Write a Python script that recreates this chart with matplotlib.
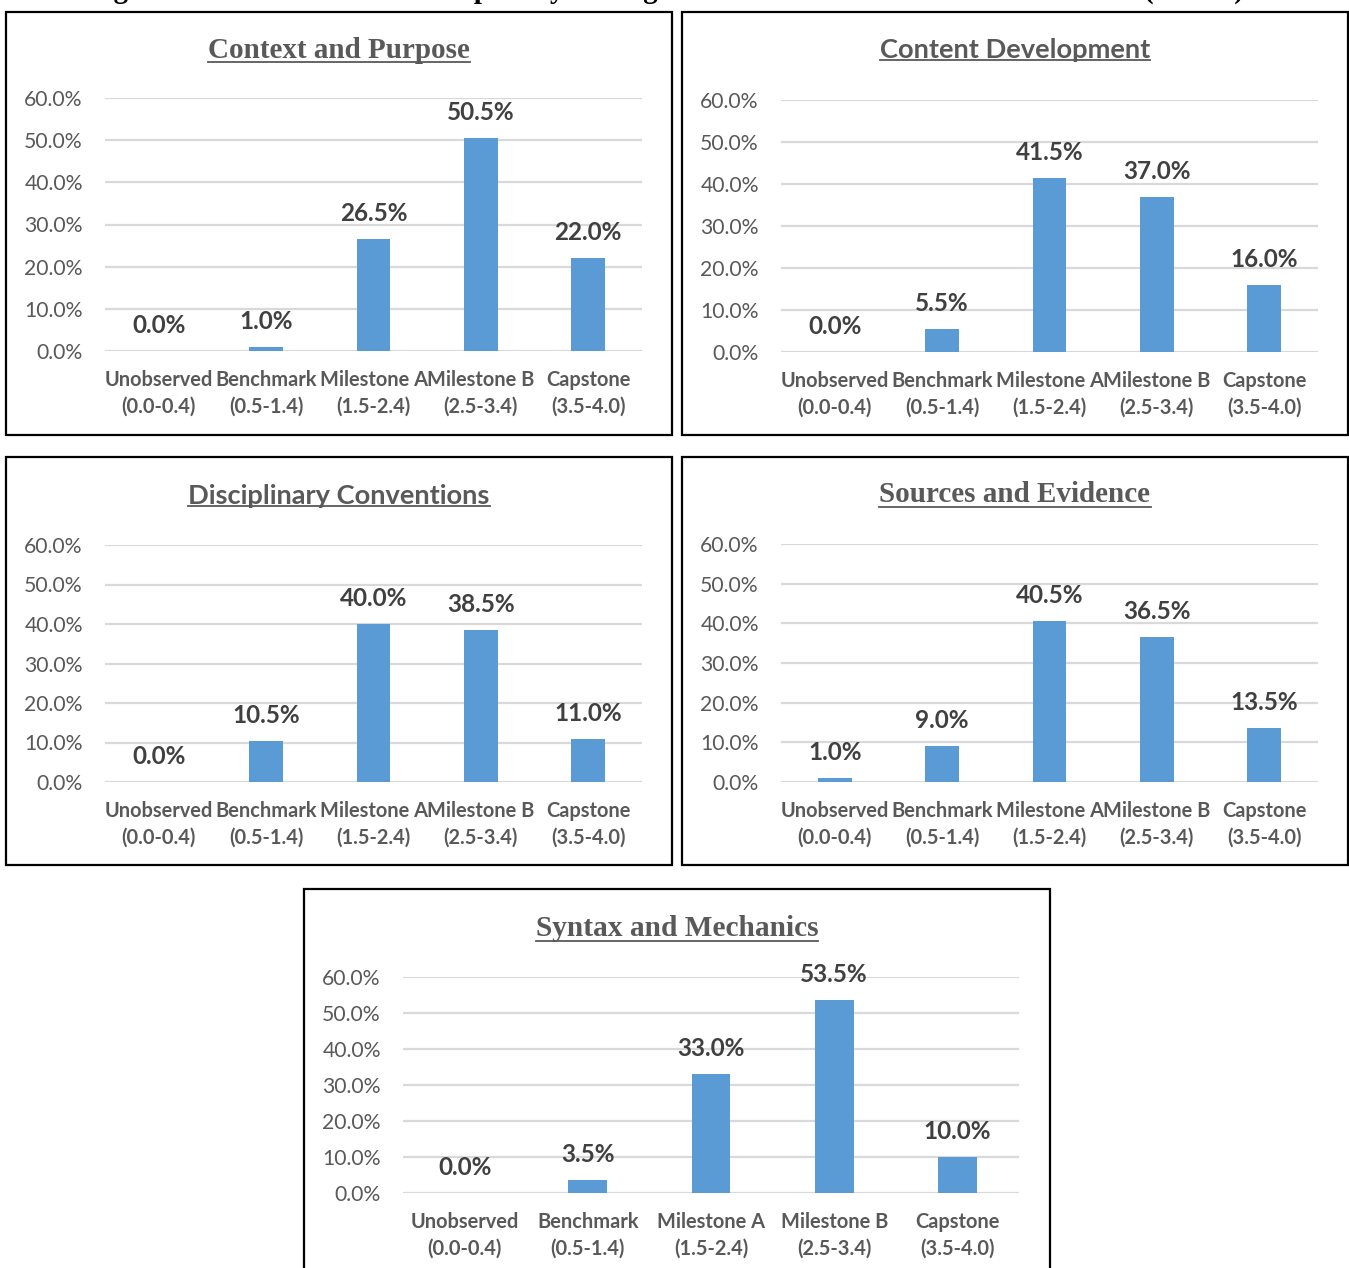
import matplotlib
matplotlib.use("Agg")
import matplotlib.pyplot as plt
from matplotlib.patches import Rectangle
from matplotlib.lines import Line2D

W, H = 1349, 1268
DPI = 100

categories = ["Unobserved\n(0.0-0.4)", "Benchmark\n(0.5-1.4)", "Milestone A\n(1.5-2.4)",
              "Milestone B\n(2.5-3.4)", "Capstone\n(3.5-4.0)"]
context_purpose = [0.0, 1.0, 26.5, 50.5, 22.0]
content_development = [0.0, 5.5, 41.5, 37.0, 16.0]
disciplinary_conventions = [0.0, 10.5, 40.0, 38.5, 11.0]
sources_evidence = [1.0, 9.0, 40.5, 36.5, 13.5]
syntax_mechanics = [0.0, 3.5, 33.0, 53.5, 10.0]
y_ticks = [0, 10, 20, 30, 40, 50, 60]

BAR = "#5B9BD5"
GRID = "#D9D9D9"
TXT = "#595959"
LBL = "#404040"
SANS = ["Lato", "DejaVu Sans"]
SERIF = ["Liberation Serif", "DejaVu Serif"]

fig = plt.figure(figsize=(W / DPI, H / DPI), dpi=DPI)
fig.patch.set_facecolor("white")


def fx(x):
    return x / W


def fy(y):
    return 1 - y / H


def frame(x0, y0, x1, y1):
    fig.patches.append(Rectangle((fx(x0), fy(y1)), fx(x1 - x0), (y1 - y0) / H,
                                 transform=fig.transFigure, fill=False,
                                 edgecolor="black", linewidth=1.6, zorder=0))


titles = []


def panel(values, title, title_font, title_size, title_xy, box, cat_size=14.4):
    x0, ytop, x1, ybot = box
    ax = fig.add_axes([fx(x0), fy(ybot), fx(x1 - x0), (ybot - ytop) / H])
    ax.set_facecolor("none")
    pos = list(range(len(categories)))
    ax.bar(pos, values, width=0.315, color=BAR, zorder=3)
    ax.set_xlim(-0.5, len(categories) - 0.5)
    ax.set_ylim(0, 60)
    ax.set_yticks(y_ticks)
    ax.set_yticklabels([f"{v:.1f}%" for v in y_ticks], family=SANS, fontsize=15.2, color=TXT)
    ax.set_xticks(pos)
    ax.set_xticklabels(categories, family=SANS, fontsize=cat_size, fontweight="bold",
                       color=TXT, linespacing=1.4)
    ax.tick_params(axis="both", length=0)
    ax.tick_params(axis="y", pad=16)
    ax.tick_params(axis="x", pad=14)
    for s in ax.spines.values():
        s.set_visible(False)
    ax.grid(axis="y", color=GRID, linewidth=1.6, zorder=0)
    ax.set_axisbelow(True)
    for p, v in zip(pos, values):
        ax.annotate(f"{v:.1f}%", (p, v), xytext=(0, 18), textcoords="offset pixels",
                    ha="center", va="baseline", family=SANS, fontsize=17.5,
                    fontweight="bold", color=LBL, annotation_clip=False, zorder=4)
    t = fig.text(fx(title_xy[0]), fy(title_xy[1]), title, ha="center", va="center",
                 family=title_font, fontsize=title_size, fontweight="bold", color=TXT)
    titles.append(t)
    return ax


frame(6, 12, 672, 435)
frame(682, 12, 1348, 435)
frame(6, 457, 672, 865)
frame(682, 457, 1348, 865)
frame(304, 889, 1050, 1275)

panel(context_purpose, "Context and Purpose", SERIF, 21, (339, 50), (105, 98, 642, 351))
panel(content_development, "Content Development", SANS, 19.6, (1015, 50), (781, 100, 1318, 352))
panel(disciplinary_conventions, "Disciplinary Conventions", SANS, 19.6, (339, 496), (105, 545, 642, 782))
panel(sources_evidence, "Sources and Evidence", SERIF, 21, (1015, 495), (781, 544, 1318, 782))
panel(syntax_mechanics, "Syntax and Mechanics", SERIF, 21.2, (677, 929), (403, 977, 1019, 1193))

# figure caption sits above the top edge; only its descenders fall inside the canvas
fig.text(fx(88), fy(-2), "Figure 4. Percent of Student Papers by Average Final Scores and Performance Levels (N=200)",
         ha="left", va="baseline", family=SERIF, fontsize=20.8, fontweight="bold", color="black")

# underline the panel titles
fig.canvas.draw()
r = fig.canvas.get_renderer()
for t in titles:
    bb = t.get_window_extent(r)
    yb = bb.y0 + 2
    fig.lines.append(Line2D([bb.x0 / W, bb.x1 / W], [yb / H, yb / H], transform=fig.transFigure,
                            color=TXT, linewidth=1.3))

fig.savefig("out.png", dpi=DPI)
